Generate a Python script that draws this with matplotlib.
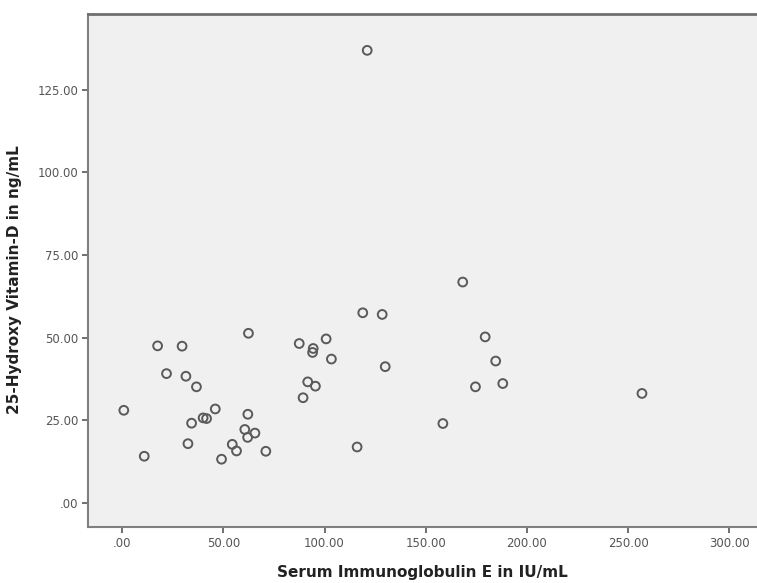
import matplotlib
matplotlib.use("Agg")
import matplotlib.pyplot as plt
from matplotlib.ticker import FuncFormatter

ige = [0.8, 10.9, 17.5, 21.9, 29.6, 31.5, 32.5, 34.3, 36.7, 40.0, 41.7, 46.0,
       49.1, 54.4, 56.5, 60.6, 62.0, 62.1, 62.4, 65.6, 71.0, 87.5, 89.4, 91.7,
       94.4, 94.1, 95.5, 100.8, 103.4, 116.1, 118.9, 121.1, 128.5, 130.0,
       158.5, 168.3, 174.6, 179.4, 184.6, 188.1, 256.9]
vitd = [28.0, 14.1, 47.5, 39.1, 47.4, 38.3, 17.9, 24.1, 35.1, 25.7, 25.5, 28.4,
        13.2, 17.7, 15.7, 22.2, 19.8, 26.8, 51.3, 21.1, 15.6, 48.2, 31.8, 36.6,
        46.7, 45.5, 35.3, 49.6, 43.5, 16.9, 57.5, 136.9, 57.0, 41.2,
        24.0, 66.8, 35.1, 50.2, 42.9, 36.1, 33.1]
x_ticks = [0, 50, 100, 150, 200, 250, 300]
y_ticks = [0, 25, 50, 75, 100, 125]

fig = plt.figure(figsize=(7.57, 5.83), dpi=100)
ax = fig.add_axes([88/757, 1 - 527.3/583, 1 - 88/757 + 0.002, (527.3 - 14)/583])
ax.set_facecolor("#f0f0f0")
ax.scatter(ige, vitd, s=40, facecolors="none", edgecolors="#5a5a5a", linewidths=1.4, zorder=3)

ax.set_xlim(-16.9, 314.5)
ax.set_ylim(-7.4, 147.9)
ax.set_xticks(x_ticks)
ax.set_yticks(y_ticks)

def fmt(v, pos):
    s = f"{v:.2f}"
    if s.startswith("0"):
        s = s[1:]
    return s

ax.xaxis.set_major_formatter(FuncFormatter(fmt))
ax.yaxis.set_major_formatter(FuncFormatter(fmt))
ax.tick_params(axis="both", direction="out", length=4, width=1.4, color="#707070",
               labelsize=8.5, labelcolor="#555555", pad=3)

for side in ["left", "bottom"]:
    ax.spines[side].set_color("#808080")
    ax.spines[side].set_linewidth(1.5)
ax.spines["top"].set_color("#707070")
ax.spines["top"].set_linewidth(2.0)
ax.spines["right"].set_visible(False)

ax.set_xlabel("Serum Immunoglobulin E in IU/mL", fontsize=11, fontweight="bold", color="#222222", va="center")
ax.set_ylabel("25-Hydroxy Vitamin-D in ng/mL", fontsize=11, fontweight="bold", color="#222222", va="center")
ax.xaxis.set_label_coords((422 - 88) / 669, (527.3 - 573) / 513.3)
ax.yaxis.set_label_coords((15 - 88) / 669, (527.3 - 280) / 513.3)

fig.savefig("out.png", dpi=100)
